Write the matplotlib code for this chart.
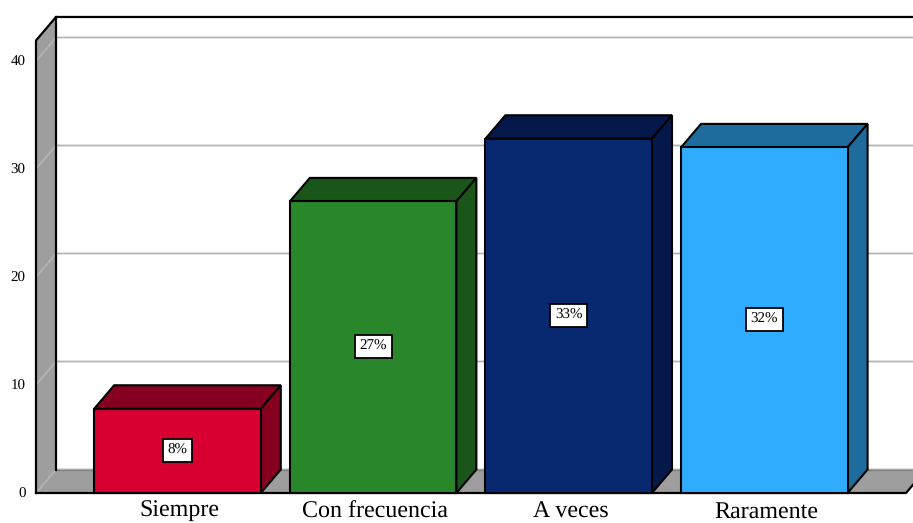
# 3D style bar chart with shaded walls and floor
import matplotlib.pyplot as plt
from matplotlib.patches import Polygon

plt.rcParams['font.family'] = ['Liberation Serif', 'DejaVu Serif']
plt.rcParams['text.hinting'] = 'no_hinting'
plt.rcParams['text.hinting_factor'] = 1

# data
categories = ['Siempre', 'Con frecuencia', 'A veces', 'Raramente']
values = [7.8, 27.0, 32.8, 32.0]
yticks = [0, 10, 20, 30, 40]

# colours: front face and darker top/side faces
front_colors = ['#D80030', '#2A862A', '#082870', '#30ACFF']
dark_colors = ['#850020', '#1A561A', '#05184A', '#1E6C9E']
wall_color = '#9E9E9E'
grid_color = '#B4B4B4'

# scale: one category step is 195.6 px, one y unit is 10.8 px
xstep = 195.6
ystep = 10.8
x0 = 177.5
y0 = 493
W, H = 913, 523

# depth of the box and half the bar width, in data units
dx = 20 / xstep
dy = 23.5 / ystep
hw = 83.3 / xstep

fig = plt.figure(figsize=(W / 100, H / 100), dpi=100)
ax = fig.add_axes([0, 0, 1, 1])
ax.set_xlim(-x0 / xstep, (W - x0) / xstep)
ax.set_ylim((y0 - H) / ystep, y0 / ystep)
ax.axis('off')

xleft = (36 - x0) / xstep
xright = (W + 40 - x0) / xstep
xfloor = (906 - x0) / xstep
ytop = 41.9

def poly(pts, color, edge='black', lw=1.5, z=2):
    ax.add_patch(Polygon(pts, closed=True, facecolor=color, edgecolor=edge,
                         linewidth=lw, joinstyle='miter', zorder=z))

# left wall and floor
poly([(xleft, 0), (xleft + dx, dy), (xleft + dx, ytop + dy), (xleft, ytop)], wall_color, edge='none', z=1)
poly([(xleft, 0), (xfloor, 0), (xfloor + dx, dy), (xleft + dx, dy)], wall_color, edge='none', z=1)

# grid lines along the wall and the back
for t in yticks:
    ax.plot([xleft, xleft + dx, xright], [t, t + dy, t + dy], color=grid_color, lw=1.3, zorder=1.5)

# frame
ax.plot([xleft, xleft, xleft + dx, xright], [0, ytop, ytop + dy, ytop + dy], color='black', lw=1.6, zorder=1.8)
ax.plot([xleft + dx, xleft + dx], [dy, ytop + dy], color='black', lw=1.6, zorder=1.8)
ax.plot([xleft, xfloor, xfloor + dx], [0, 0, dy], color='black', lw=1.6, zorder=1.8)
ax.plot([xleft + dx, xfloor + dx], [dy, dy], color='#808080', lw=1, zorder=1.7)

# bars
for i, v in enumerate(values):
    l, r = i - hw, i + hw
    poly([(l, v), (l + dx, v + dy), (r + dx, v + dy), (r, v)], dark_colors[i])
    poly([(r, 0), (r + dx, dy), (r + dx, v + dy), (r, v)], dark_colors[i])
    poly([(l, 0), (r, 0), (r, v), (l, v)], front_colors[i])
    ax.text(i, v / 2 + 0.05, f'{v:.0f}%', ha='center', va='center', fontsize=10.5, color='black', zorder=5,
            bbox=dict(boxstyle='square,pad=0.33', facecolor='white', edgecolor='black', linewidth=1.3))
    # category labels on a common baseline
    ax.text(i + 2 / xstep, -2.25, categories[i], ha='center', va='baseline', fontsize=17, color='black')

# y tick labels
for t in yticks:
    ax.text((25.5 - x0) / xstep, t - 0.15, str(t), ha='right', va='center', fontsize=10.5, color='black')

plt.savefig('out.png', dpi=100)
